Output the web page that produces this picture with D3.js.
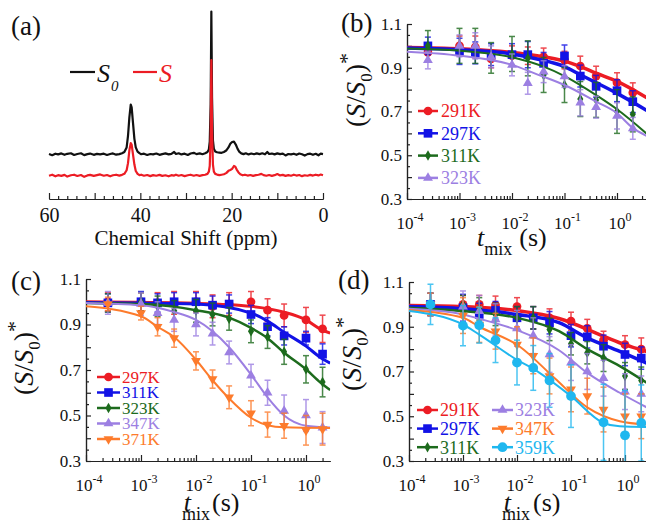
<!DOCTYPE html>
<html>
<head>
<meta charset="utf-8">
<script src="https://cdn.jsdelivr.net/npm/d3@7/dist/d3.min.js"></script>
</head>
<body style="margin:0;background:#fff">
<div id="chart"></div>
<script>
// ---------- DATA ----------
// (a) spectra: [ppm, intensity]
const spectrumS0 = [[60,0.4],[59.3,-0.5],[58.6,0.6],[58,0.1],[57.3,0.8],[56.6,-0.2],[56,0.5],[55.2,0.9],[54.5,-0.3],[53.8,0.4],[53,0.9],[52.3,-0.4],[51.6,0.3],[51,0.7],[50.2,-0.2],[49.5,0.5],[48.8,0.1],[48,0.6],[47.3,-0.3],[46.6,0.4],[46,0.8],[45.3,-0.1],[44.6,0.3],[44,0.9],[43.5,1.8],[43,5],[42.7,13],[42.4,26],[42.1,35],[41.9,33],[41.6,22],[41.3,11],[41,5],[40.6,2],[40.2,1],[39.8,0.2],[39.2,0.6],[38.5,-0.3],[37.8,0.4],[37.2,0.1],[36.5,0.7],[35.8,-0.2],[35.2,0.3],[34.5,0.8],[33.8,0.1],[33.2,0.5],[32.6,1.8],[32.2,0.4],[31.6,0.9],[31,0.1],[30.3,0.6],[29.6,-0.3],[29,0.7],[28.3,1.2],[27.7,0.3],[27,0.8],[26.4,0.2],[25.8,0.9],[25.3,1.8],[25,3.5],[24.8,9],[24.6,35],[24.45,100],[24.3,40],[24.1,10],[23.9,4],[23.6,2.2],[23.2,1.6],[22.7,1.4],[22.2,1.2],[21.7,1.8],[21.2,2.8],[20.7,5],[20.3,7.5],[19.9,8.8],[19.5,9],[19.1,7],[18.7,4],[18.3,1.8],[17.9,0.8],[17.4,0.3],[16.9,0.9],[16.3,0.1],[15.7,0.7],[15.1,0.2],[14.5,0.8],[13.9,0.3],[13.3,0.9],[12.7,0.2],[12.2,1.8],[11.8,0.4],[11.2,0.7],[10.6,0.1],[10,0.8],[9.4,0.3],[8.8,0.6],[8.2,-0.6],[7.6,0.4],[7,0.1],[6.4,0.6],[5.8,-0.2],[5.2,0.7],[4.6,0.2],[4,-0.7],[3.4,0.3],[2.8,0.6],[2.2,-0.2],[1.6,0.5],[1,-0.5],[0.5,0.6],[0,0.3]];
const spectrumS = [[60,0.2],[59.3,0.9],[58.6,-0.2],[58,0.6],[57.3,0.1],[56.6,0.8],[56,-0.4],[55.2,0.5],[54.5,0.9],[53.8,0],[53,0.7],[52.3,-0.6],[51.6,0.4],[51,0.8],[50.2,0.1],[49.5,0.6],[48.8,1.1],[48,0.2],[47.3,0.7],[46.6,-0.2],[46,0.5],[45.3,0.9],[44.6,0.3],[44,0.8],[43.5,1.5],[43,4],[42.7,9],[42.4,18],[42.1,23],[41.9,22],[41.6,15],[41.3,8],[41,3.5],[40.6,1.5],[40.2,0.6],[39.8,0.9],[39.2,0.2],[38.5,0.7],[37.8,-0.1],[37.2,0.6],[36.5,0.2],[35.8,0.8],[35.2,0.1],[34.5,0.5],[33.8,-0.2],[33.2,0.6],[32.6,0.3],[32.2,0.9],[31.6,0.2],[31,0.7],[30.3,-0.1],[29.6,0.5],[29,0.9],[28.3,0.2],[27.7,0.7],[27,0.1],[26.4,0.6],[25.8,0.9],[25.3,1.5],[25,3],[24.8,7],[24.6,28],[24.45,81],[24.3,32],[24.1,8],[23.9,3],[23.6,1.5],[23.2,1],[22.7,0.6],[22.2,0.9],[21.7,1.2],[21.2,2],[20.7,3.6],[20.3,4.2],[19.9,5],[19.5,7],[19.2,6.5],[18.9,4.5],[18.5,2.5],[18.1,1.2],[17.6,0.5],[17.1,0.9],[16.5,0.3],[15.9,0.7],[15.3,0.1],[14.7,0.6],[14.1,0.9],[13.5,1.5],[13,0.6],[12.4,0.2],[11.8,0.7],[11.2,0.1],[10.6,0.6],[10,1.4],[9.4,0.4],[8.8,0.8],[8.2,0.1],[7.6,0.6],[7,0.2],[6.4,0.9],[5.8,0.3],[5.2,0.7],[4.6,-0.1],[4,0.5],[3.4,0.2],[2.8,0.8],[2.2,0.3],[1.6,0.9],[1,0.4],[0.5,1],[0,0.5]];

// mixing times (s), shared by (b), (c), (d)
const tmix = [0.00025, 0.001, 0.002, 0.004, 0.01, 0.02, 0.04, 0.1, 0.2, 0.4, 1, 2];

// (b)
const b291 = [0.97,1.0,0.995,0.94,0.955,0.955,0.95,0.935,0.908,0.862,0.832,0.786];
const b291err = [0.04,0.045,0.05,0.04,0.045,0.04,0.04,0.04,0.045,0.045,0.045,0.045];
const b297 = [1.0,0.975,0.968,0.96,0.96,0.96,0.92,0.954,0.862,0.815,0.795,0.745];
const b297err = [0.04,0.06,0.05,0.05,0.05,0.06,0.05,0.05,0.05,0.05,0.05,0.05];
const b311 = [1.0,1.0,1.0,0.945,0.963,0.943,0.867,0.821,0.757,0.753,0.7,0.687];
const b311err = [0.07,0.08,0.08,0.07,0.08,0.08,0.08,0.08,0.08,0.08,0.1,0.08];
const b323 = [0.935,1.0,1.0,0.95,0.913,0.829,0.882,0.86,0.74,0.72,0.68,0.623];
const b323err = [0.04,0.05,0.06,0.05,0.05,0.05,0.05,0.05,0.06,0.05,0.06,0.05];
const b291fit = [[1e-4,0.993],[1e-3,0.987],[1e-2,0.97],[0.03,0.955],[0.1,0.93],[0.2,0.905],[0.4,0.875],[1,0.838],[3.7,0.763]];
const b297fit = [[1e-4,0.99],[1e-3,0.982],[1e-2,0.963],[0.03,0.94],[0.1,0.905],[0.2,0.868],[0.4,0.832],[1,0.783],[3.7,0.705]];
const b311fit = [[1e-4,0.988],[1e-3,0.978],[1e-2,0.948],[0.04,0.905],[0.1,0.862],[0.2,0.821],[0.4,0.775],[1,0.71],[3.7,0.598]];
const b323fit = [[1e-4,0.973],[1e-3,0.955],[1e-2,0.913],[0.03,0.87],[0.1,0.821],[0.4,0.745],[1,0.692],[2,0.625],[3.7,0.588]];

// (c)
const c297 = [1.0,1.0,0.995,0.995,1.0,0.98,0.99,1.0,0.963,0.94,0.92,0.881];
const c297err = [0.04,0.04,0.045,0.05,0.045,0.05,0.05,0.045,0.05,0.05,0.055,0.06];
const c311 = [0.995,1.0,0.995,1.0,1.0,0.985,0.99,0.944,0.89,0.85,0.84,0.77];
const c311err = [0.04,0.045,0.04,0.04,0.04,0.04,0.04,0.04,0.04,0.04,0.03,0.045];
const c323 = [0.995,1.0,0.98,0.96,0.96,0.944,0.925,0.87,0.845,0.78,0.703,0.647];
const c323err = [0.04,0.04,0.045,0.045,0.05,0.05,0.05,0.05,0.05,0.055,0.06,0.065];
const c347 = [0.995,0.99,0.95,0.92,0.9,0.86,0.777,0.675,0.6,0.52,0.5,0.447];
const c347err = [0.05,0.05,0.05,0.05,0.05,0.05,0.05,0.05,0.055,0.07,0.07,0.07];
const c371 = [0.99,0.95,0.89,0.84,0.74,0.66,0.58,0.51,0.46,0.455,0.435,0.44];
const c371err = [0.03,0.03,0.04,0.04,0.04,0.04,0.05,0.055,0.055,0.055,0.065,0.07];
const c297fit = [[1e-4,1.0],[1e-2,0.993],[0.1,0.98],[0.4,0.954],[1,0.92],[1.83,0.88],[2.75,0.862]];
const c311fit = [[1e-4,0.997],[1e-2,0.99],[0.1,0.95],[0.2,0.915],[0.4,0.866],[1,0.805],[1.83,0.755],[2.75,0.73]];
const c323fit = [[1e-4,0.995],[1e-3,0.99],[1e-2,0.963],[0.04,0.93],[0.1,0.885],[0.2,0.84],[0.4,0.776],[1,0.703],[1.83,0.645],[2.75,0.612]];
const c347fit = [[1e-4,0.995],[1e-3,0.985],[4e-3,0.955],[1e-2,0.92],[2e-2,0.87],[4e-2,0.8],[0.1,0.68],[0.2,0.58],[0.4,0.5],[1,0.455],[2.75,0.447]];
const c371fit = [[1e-4,0.98],[1e-3,0.936],[2e-3,0.89],[4e-3,0.845],[1e-2,0.745],[2e-2,0.655],[4e-2,0.575],[0.1,0.49],[0.2,0.457],[0.4,0.448],[2.75,0.445]];

// (d)
const d291 = [1.0,1.0,1.0,0.997,0.99,0.94,0.94,0.925,0.893,0.84,0.82,0.8];
const d291err = [0.05,0.04,0.04,0.04,0.04,0.05,0.04,0.04,0.04,0.04,0.04,0.05];
const d297 = [1.0,0.985,0.955,0.973,0.94,0.94,0.918,0.86,0.855,0.813,0.776,0.76];
const d297err = [0.05,0.06,0.05,0.04,0.05,0.05,0.05,0.05,0.05,0.05,0.05,0.05];
const d311 = [1.0,1.0,0.98,0.955,0.94,0.94,0.888,0.824,0.784,0.76,0.68,0.66];
const d311err = [0.05,0.04,0.05,0.05,0.05,0.05,0.05,0.05,0.05,0.06,0.06,0.06];
const d323 = [1.0,0.99,0.97,0.933,0.893,0.86,0.776,0.74,0.7,0.67,0.61,0.6];
const d323err = [0.05,0.07,0.07,0.07,0.08,0.08,0.08,0.08,0.08,0.08,0.08,0.08];
const d347 = [1.0,0.95,0.91,0.88,0.82,0.77,0.68,0.62,0.59,0.53,0.5,0.5];
const d347err = [0.05,0.08,0.08,0.08,0.08,0.08,0.08,0.1,0.08,0.1,0.1,0.1];
const d359 = [1.0,0.905,0.907,0.84,0.74,0.716,0.66,0.59,null,0.473,0.415,0.47];
const d359err = [0.09,0.09,0.08,0.1,0.1,0.1,0.12,0.14,0.16,0.17,0.2,0.17];
const d291fit = [[1e-4,0.995],[1e-3,0.99],[1e-2,0.972],[0.06,0.937],[0.4,0.858],[1,0.82],[2.6,0.788]];
const d297fit = [[1e-4,0.99],[1e-3,0.98],[1e-2,0.955],[0.06,0.918],[0.2,0.85],[0.8,0.79],[2.6,0.736]];
const d311fit = [[1e-4,0.985],[1e-3,0.97],[1e-2,0.94],[0.06,0.88],[0.2,0.8],[0.8,0.724],[2.6,0.648]];
const d323fit = [[1e-4,0.98],[1e-3,0.955],[2e-3,0.936],[1e-2,0.885],[0.06,0.795],[0.2,0.694],[0.8,0.605],[2.6,0.538]];
const d347fit = [[1e-4,0.975],[1e-3,0.94],[2e-3,0.9],[0.011,0.813],[0.05,0.67],[0.2,0.54],[0.8,0.478],[2.6,0.463]];
const d359fit = [[1e-4,0.97],[1e-3,0.91],[2e-3,0.865],[0.011,0.746],[0.02,0.712],[0.1,0.59],[0.4,0.47],[0.8,0.455],[2.6,0.452]];

// ---------- STYLE ----------
const RED = "#ec1c24", BLUE = "#1212e6", GREEN = "#1d6b1d",
      PURPLE = "#9c7fe2", ORANGE = "#fd7b2c", CYAN = "#1fb7ef";
const SERIF = "'Liberation Serif'";

const W = 646, H = 523;
const svg = d3.select("#chart").append("svg")
    .attr("width", W).attr("height", H);
const defs = svg.append("defs");

//////////////////////// PANEL (a) ////////////////////////
const xPpm = d3.scaleLinear().domain([60, 0]).range([49, 323]);
const yInt = d3.scaleLinear().domain([0, 100]).range([176, 33]);
const s0Offset = 15;
const specLine = d3.line().x(d => xPpm(d[0])).y(d => yInt(d[1]));

svg.append("path").datum(spectrumS0.map(d => [d[0], d[1] + s0Offset]))
    .attr("d", specLine).attr("fill", "none")
    .attr("stroke", "#111").attr("stroke-width", 2.2).attr("stroke-linejoin", "round");
svg.append("path").datum(spectrumS)
    .attr("d", specLine).attr("fill", "none")
    .attr("stroke", RED).attr("stroke-width", 2.2).attr("stroke-linejoin", "round");

const axA = svg.append("g").attr("transform", "translate(0,199)");
axA.call(d3.axisBottom(xPpm).tickValues(d3.range(0, 61, 2).filter(v => v % 10 !== 0))
    .tickSize(-3).tickSizeOuter(0).tickFormat(""));
axA.append("g").call(d3.axisBottom(xPpm).tickValues(d3.range(0, 61, 10))
    .tickSize(-6).tickSizeOuter(0).tickPadding(9)
    .tickFormat(d => d % 20 === 0 ? d : ""));
axA.selectAll("path.domain, line").attr("stroke", "#222").attr("stroke-width", 1.2);
axA.selectAll("text").attr("font-size", 20).attr("fill", "#111");

svg.append("text").attr("x", xPpm(30)).attr("y", 245).attr("text-anchor", "middle")
    .attr("font-size", 21).text("Chemical Shift (ppm)");
svg.append("text").attr("x", 11).attr("y", 35).attr("font-size", 27).text("(a)");

// legend (a)
svg.append("line").attr("x1", 70).attr("x2", 95).attr("y1", 72).attr("y2", 72)
    .attr("stroke", "#111").attr("stroke-width", 2.2);
const s0Lab = svg.append("text").attr("x", 97).attr("y", 82).attr("font-size", 26)
    .attr("font-style", "italic");
s0Lab.append("tspan").text("S");
s0Lab.append("tspan").attr("font-size", 15).attr("dy", 9).attr("dx", 1).text("0");
svg.append("line").attr("x1", 133).attr("x2", 157).attr("y1", 72).attr("y2", 72)
    .attr("stroke", RED).attr("stroke-width", 2.2);
svg.append("text").attr("x", 159).attr("y", 82).attr("font-size", 26)
    .attr("font-style", "italic").attr("fill", RED).text("S");

//////////////////////// RELAXATION PANELS ////////////////////////
function drawPanel(p) {
    const x = d3.scaleLog().domain([1e-4, p.tMax]).range([p.left, p.right]);
    const y = d3.scaleLinear().domain([0.3, 1.1]).range([p.bottom, p.top]);

    // clip at the bottom axis and the right end
    const clipId = "clip-" + p.id;
    defs.append("clipPath").attr("id", clipId).append("rect")
        .attr("x", p.left).attr("y", p.top - 30)
        .attr("width", p.right - p.left).attr("height", p.bottom - p.top + 30);

    // y axis
    const yMajor = d3.range(3, 12).map(v => v / 10);
    const yMinor = d3.range(6, 23).map(v => v / 20).filter(v => Math.round(v * 20) % 2 === 1);
    const yAx = svg.append("g").attr("transform", "translate(" + p.left + ",0)");
    yAx.call(d3.axisLeft(y).tickValues(yMinor).tickSize(-3).tickSizeOuter(0).tickFormat(""));
    yAx.append("g").call(d3.axisLeft(y).tickValues(yMajor).tickSize(-5).tickSizeOuter(0)
        .tickPadding(5)
        .tickFormat(d => Math.round(d * 10) % 2 === 1 ? d3.format(".1f")(d) : ""));

    // x axis (log)
    const decades = [1e-4, 1e-3, 1e-2, 1e-1, 1];
    const xMinor = [];
    decades.forEach(dec => d3.range(2, 10).forEach(m => { if (m * dec <= p.tMax) xMinor.push(m * dec); }));
    const xAx = svg.append("g").attr("transform", "translate(0," + p.bottom + ")");
    xAx.call(d3.axisBottom(x).tickValues(xMinor).tickSize(-3).tickSizeOuter(0).tickFormat(""));
    xAx.append("g").call(d3.axisBottom(x).tickValues(decades).tickSize(-6).tickSizeOuter(0).tickFormat(""));

    [yAx, xAx].forEach(a => {
        a.selectAll("path.domain, line").attr("stroke", "#222").attr("stroke-width", 1.2);
        a.selectAll("text").attr("font-size", 17).attr("fill", "#111");
    });

    const decLab = svg.append("g").selectAll("text").data(decades).enter().append("text")
        .attr("x", d => x(d) + 3).attr("y", p.bottom + 30).attr("text-anchor", "middle")
        .attr("font-size", 17);
    decLab.append("tspan").text("10");
    decLab.append("tspan").attr("font-size", 12).attr("dy", -8)
        .text(d => String(Math.round(Math.log10(d))));

    // series
    const plot = svg.append("g").attr("clip-path", "url(#" + clipId + ")");
    const fitLine = d3.line().curve(d3.curveMonotoneX)
        .x(d => x(d[0])).y(d => y(d[1]));

    p.series.forEach(s => {
        const pts = tmix.map((t, i) => ({ t: t, v: s.vals[i], e: s.errs[i] }))
            .filter(d => d.v !== null);
        const eb = plot.append("g").attr("stroke", s.color).attr("stroke-width", 1.5)
            .attr("opacity", 0.8);
        eb.selectAll("line.v").data(pts).enter().append("line")
            .attr("x1", d => x(d.t)).attr("x2", d => x(d.t))
            .attr("y1", d => y(d.v - d.e)).attr("y2", d => y(d.v + d.e));
        eb.selectAll("line.cap").data(pts.flatMap(d => [d.v - d.e, d.v + d.e].map(v => ({ t: d.t, v: v }))))
            .enter().append("line")
            .attr("x1", d => x(d.t) - 3).attr("x2", d => x(d.t) + 3)
            .attr("y1", d => y(d.v)).attr("y2", d => y(d.v));

        plot.append("path").datum(s.fit).attr("d", fitLine).attr("fill", "none")
            .attr("stroke", s.color).attr("stroke-width", s.width);

        const sym = d3.symbol().type(s.symbol).size(s.size);
        plot.append("g").selectAll("path").data(pts).enter().append("path")
            .attr("d", sym).attr("fill", s.color)
            .attr("transform", d => "translate(" + x(d.t) + "," + y(d.v) + ")" + (s.flip ? " rotate(180)" : ""));
    });

    // legend
    p.legend.cols.forEach(col => {
        col.items.forEach((si, r) => {
            const s = p.series[si];
            const ly = p.legend.y0 + r * p.legend.dy;
            svg.append("line").attr("x1", col.x0).attr("x2", col.x1)
                .attr("y1", ly).attr("y2", ly)
                .attr("stroke", s.color).attr("stroke-width", 2.5);
            svg.append("path").attr("d", d3.symbol().type(s.symbol).size(s.size)())
                .attr("fill", s.color)
                .attr("transform", "translate(" + (col.x0 + col.x1) / 2 + "," + ly + ")" + (s.flip ? " rotate(180)" : ""));
            svg.append("text").attr("x", col.tx).attr("y", ly).attr("dy", "0.35em")
                .attr("font-size", p.legend.fontSize).attr("fill", s.color).text(s.name);
        });
    });

    // panel label
    svg.append("text").attr("x", p.labelX).attr("y", p.labelY).attr("font-size", 27).text(p.label);

    // y title (S/S0)*
    const yt = svg.append("text")
        .attr("transform", "translate(" + p.yTitleX + "," + p.yTitleY + ") rotate(-90)")
        .attr("text-anchor", "middle").attr("font-size", 28);
    yt.append("tspan").text("(");
    yt.append("tspan").attr("font-style", "italic").text("S");
    yt.append("tspan").text("/");
    yt.append("tspan").attr("font-style", "italic").text("S");
    yt.append("tspan").attr("font-size", 17).attr("dy", 7).text("0");
    yt.append("tspan").attr("dy", -7).text(")");
    yt.append("tspan").attr("font-size", 22).attr("dy", -11).text("*");

    // x title t_mix (s)
    const xt = svg.append("text").attr("x", p.tX).attr("y", p.tY).attr("font-size", 26);
    xt.append("tspan").attr("font-style", "italic").text("t");
    xt.append("tspan").attr("font-size", 18).attr("dy", 9).attr("dx", p.mixDx).text("mix");
    xt.append("tspan").attr("dy", -9).attr("dx", p.sDx).text("(s)");
}

drawPanel({
    id: "b", label: "(b)", labelX: 341, labelY: 32,
    left: 407, right: 407 + 52.5 * (4 + Math.log10(3.7)), top: 24, bottom: 199, tMax: 3.7,
    yTitleX: 365, yTitleY: 90, tX: 477, tY: 246, mixDx: 0, sDx: 7,
    series: [
        { name: "291K", color: RED, symbol: d3.symbolCircle, size: 60, vals: b291, errs: b291err, fit: b291fit, width: 3.5 },
        { name: "297K", color: BLUE, symbol: d3.symbolSquare, size: 75, vals: b297, errs: b297err, fit: b297fit, width: 3.5 },
        { name: "311K", color: GREEN, symbol: d3.symbolDiamond, size: 32, vals: b311, errs: b311err, fit: b311fit, width: 2 },
        { name: "323K", color: PURPLE, symbol: d3.symbolTriangle, size: 42, vals: b323, errs: b323err, fit: b323fit, width: 2 }
    ],
    legend: { y0: 111, dy: 22.3, fontSize: 18, cols: [{ x0: 418, x1: 438, tx: 441, items: [0, 1, 2, 3] }] }
});

drawPanel({
    id: "c", label: "(c)", labelX: 11, labelY: 290,
    left: 86, right: 86 + 55 * (4 + Math.log10(2.75)), top: 279, bottom: 461, tMax: 2.75,
    yTitleX: 33, yTitleY: 358, tX: 182, tY: 511, mixDx: -9, sDx: 2,
    series: [
        { name: "297K", color: RED, symbol: d3.symbolCircle, size: 60, vals: c297, errs: c297err, fit: c297fit, width: 3 },
        { name: "311K", color: BLUE, symbol: d3.symbolSquare, size: 75, vals: c311, errs: c311err, fit: c311fit, width: 3 },
        { name: "323K", color: GREEN, symbol: d3.symbolDiamond, size: 32, vals: c323, errs: c323err, fit: c323fit, width: 2.5 },
        { name: "347K", color: PURPLE, symbol: d3.symbolTriangle, size: 42, vals: c347, errs: c347err, fit: c347fit, width: 2 },
        { name: "371K", color: ORANGE, symbol: d3.symbolTriangle, size: 42, flip: true, vals: c371, errs: c371err, fit: c371fit, width: 2 }
    ],
    legend: { y0: 377, dy: 15.5, fontSize: 17, cols: [{ x0: 97, x1: 120, tx: 122, items: [0, 1, 2, 3, 4] }] }
});

drawPanel({
    id: "d", label: "(d)", labelX: 338, labelY: 289,
    left: 409, right: 409 + 54 * (4 + Math.log10(2.6)), top: 282, bottom: 461, tMax: 2.6,
    yTitleX: 361, yTitleY: 354, tX: 502, tY: 511, mixDx: -9, sDx: 3,
    series: [
        { name: "291K", color: RED, symbol: d3.symbolCircle, size: 60, vals: d291, errs: d291err, fit: d291fit, width: 3.5 },
        { name: "297K", color: BLUE, symbol: d3.symbolSquare, size: 75, vals: d297, errs: d297err, fit: d297fit, width: 3.5 },
        { name: "311K", color: GREEN, symbol: d3.symbolDiamond, size: 32, vals: d311, errs: d311err, fit: d311fit, width: 2.5 },
        { name: "323K", color: PURPLE, symbol: d3.symbolTriangle, size: 42, vals: d323, errs: d323err, fit: d323fit, width: 2 },
        { name: "347K", color: ORANGE, symbol: d3.symbolTriangle, size: 42, flip: true, vals: d347, errs: d347err, fit: d347fit, width: 2 },
        { name: "359K", color: CYAN, symbol: d3.symbolCircle, size: 75, vals: d359, errs: d359err, fit: d359fit, width: 2 }
    ],
    legend: { y0: 410, dy: 18.6, fontSize: 18, cols: [
        { x0: 417, x1: 438, tx: 440, items: [0, 1, 2] },
        { x0: 492, x1: 513, tx: 515, items: [3, 4, 5] }
    ] }
});

// serif face for every text (axis groups carry their own sans-serif attribute)
svg.selectAll("text").style("font-family", SERIF);
svg.selectAll("text").filter(function () { return !this.getAttribute("fill"); }).attr("fill", "#111");
</script>
</body>
</html>
